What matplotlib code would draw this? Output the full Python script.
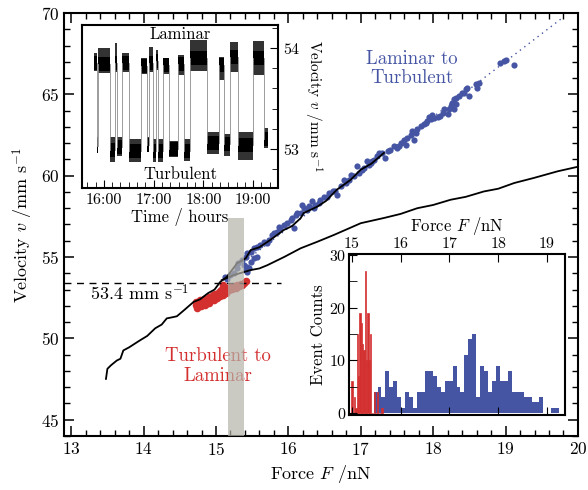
import matplotlib
matplotlib.use("Agg")
import matplotlib.pyplot as plt
from matplotlib.ticker import MultipleLocator, FixedLocator

plt.rcParams['font.family'] = ['cmr10', 'DejaVu Serif']
plt.rcParams['mathtext.fontset'] = 'cm'
plt.rcParams['axes.formatter.use_mathtext'] = True
plt.rcParams['axes.unicode_minus'] = False

BLUE = '#4555a3'
RED = '#d32f2f'

# --- main panel data (force in nN, velocity in mm/s) ---
blue_F = [19.00, 18.98, 18.93, 19.12, 18.59, 18.63, 18.61, 18.47, 18.43, 18.45,
          18.50, 18.40, 18.36, 18.31, 18.29, 18.26, 18.24, 18.32, 18.29, 18.22,
          18.15, 18.13, 18.20, 18.10, 18.06, 18.01, 17.97, 17.94, 17.99, 17.92,
          17.90, 17.87, 17.83, 17.78, 17.76, 17.71, 17.69, 17.73, 17.64, 17.60,
          17.62, 17.55, 17.53, 17.50, 17.46, 17.41, 17.37, 17.34, 17.30, 17.25,
          17.23, 17.18, 17.16, 17.14, 17.11, 17.09, 17.04, 17.02, 16.97, 16.95,
          16.90, 16.86, 16.84, 16.79, 16.77, 16.72, 16.67, 16.65, 16.61, 16.56,
          16.54, 16.49, 16.44, 16.42, 16.37, 16.35, 16.33, 16.28, 16.26, 16.21,
          16.19, 16.17, 16.12, 16.10, 16.05, 16.03, 15.98, 15.94, 15.89, 15.87,
          15.84, 15.80, 15.78, 15.73, 15.71, 15.66, 15.61, 15.57, 15.52, 15.48,
          15.43, 15.41, 16.08, 15.57, 15.52, 15.48, 15.43, 15.41, 15.38, 15.36,
          15.31, 15.29, 15.25, 15.20, 15.15, 15.13, 15.43, 15.45]
blue_v = [67.12, 67.06, 66.91, 66.79, 65.62, 65.68, 65.41, 65.41, 65.10, 65.35,
          64.90, 65.06, 64.90, 64.80, 64.69, 64.49, 64.28, 64.38, 64.07, 64.07,
          64.07, 63.87, 63.77, 63.66, 63.62, 63.56, 63.46, 63.62, 63.70, 63.35,
          63.25, 63.15, 63.04, 62.84, 62.63, 62.74, 62.53, 62.22, 62.32, 62.22,
          61.91, 62.02, 61.81, 61.71, 61.81, 61.60, 61.50, 61.09, 61.40, 61.40,
          61.19, 60.99, 60.88, 60.78, 60.68, 60.88, 60.47, 60.37, 60.16, 60.58,
          59.96, 60.06, 59.75, 59.55, 59.75, 59.34, 58.83, 59.03, 59.03, 58.93,
          58.72, 58.72, 58.52, 58.31, 58.21, 58.00, 58.42, 58.11, 57.90, 58.00,
          58.21, 57.69, 57.69, 57.59, 57.39, 57.28, 57.08, 56.97, 56.77, 56.87,
          56.56, 56.46, 56.36, 56.05, 55.84, 55.95, 55.74, 55.64, 55.53, 55.33,
          55.23, 55.02, 56.77, 55.02, 54.91, 54.71, 54.40, 54.19, 54.50, 54.81,
          54.61, 54.30, 53.99, 53.89, 53.68, 53.78, 54.09, 54.30]

red_F = [14.72, 14.73, 14.74, 14.76, 14.78, 14.79, 14.82, 14.84, 14.85, 14.88,
         14.90, 14.91, 14.93, 14.96, 14.97, 14.99, 15.02, 15.04, 15.05, 15.07,
         15.10, 15.12, 15.14, 15.15, 15.18, 15.20, 15.22, 15.25, 15.27, 15.29,
         15.31, 15.34, 15.36, 15.38, 15.41, 15.10, 14.75, 14.81, 14.87, 14.94,
         15.00, 15.08, 15.16, 15.24, 15.32]
red_v = [52.03, 52.24, 51.87, 52.14, 52.34, 51.99, 52.24, 52.44, 52.07, 52.34,
         52.55, 52.20, 52.49, 52.65, 52.34, 52.75, 52.49, 52.86, 52.61, 52.96,
         52.69, 53.06, 52.82, 53.10, 52.96, 53.16, 53.06, 53.23, 53.10, 53.31,
         53.23, 53.37, 53.31, 53.43, 53.51, 53.31, 52.05, 52.20, 52.30, 52.45,
         52.60, 52.80, 52.95, 53.10, 53.25]

# black curve (rising branch) and the lower branch
lineA_F = [13.48, 13.50, 13.55, 13.63, 13.68, 13.72, 13.80, 13.95, 14.05, 14.16,
           14.25, 14.32, 14.40, 14.46, 14.55, 14.69, 14.78, 14.89, 14.98, 15.06,
           15.15, 15.29, 15.41, 15.48, 15.60, 15.75, 15.94, 16.05, 16.17, 16.21,
           16.40, 16.52, 16.67, 16.86, 17.00, 17.15, 17.32]
lineA_v = [47.51, 48.13, 48.35, 48.64, 48.75, 49.26, 49.45, 49.88, 50.15, 50.62,
           50.85, 51.23, 51.30, 51.36, 51.70, 52.24, 52.40, 52.78, 53.00, 53.48,
           53.78, 54.61, 54.92, 55.43, 55.60, 56.05, 56.67, 56.90, 57.39, 57.70,
           58.10, 58.45, 59.14, 59.75, 60.37, 60.75, 61.40]
lineB_F = [15.08, 15.25, 15.48, 15.60, 15.71, 15.94, 16.17, 16.40, 16.63, 16.81,
           17.00, 17.32, 17.55, 17.78, 18.00, 18.24, 18.45, 18.70, 18.90, 19.12,
           19.39, 19.72, 20.00]
lineB_v = [53.58, 53.90, 54.20, 54.30, 54.50, 55.00, 55.54, 55.94, 56.36, 56.71,
           57.08, 57.40, 57.65, 58.00, 58.20, 58.52, 58.70, 59.03, 59.20, 59.55,
           59.86, 60.27, 60.55]
fit_F = [15.3, 19.8]
fit_v = [54.4, 69.75]

v_threshold = 53.4
band_F = [15.16, 15.39]

# --- inset: velocity vs time (hours) ---
ts_edges = [15.794, 15.854, 15.88, 16.12, 16.213, 16.273, 16.373, 16.5, 16.747,
            16.86, 16.907, 16.98, 17.04, 17.093, 17.193, 17.313, 17.493, 17.62,
            17.74, 18.067, 18.307, 18.42, 18.533, 18.687, 19.0, 19.22, 19.307]
ts_level = [53.85, 53.03, 53.84, 52.99, 53.85, 53.02, 53.85, 52.98, 53.82, 53.04,
            53.85, 52.98, 53.87, 52.98, 53.83, 53.00, 53.84, 52.98, 53.90, 53.06,
            53.83, 53.05, 53.91, 53.04, 53.90, 53.10]
ts_lo = [53.77, 52.97, 53.75, 52.87, 53.76, 52.93, 53.76, 52.87, 53.74, 52.98,
         53.76, 52.87, 53.78, 52.87, 53.74, 52.92, 53.73, 52.88, 53.77, 52.95,
         53.68, 52.93, 53.76, 52.89, 53.73, 53.01]
ts_hi = [53.95, 53.12, 54.00, 53.12, 54.05, 53.12, 53.95, 53.10, 53.90, 53.12,
         54.01, 53.10, 53.98, 53.10, 53.90, 53.08, 53.93, 53.10, 54.08, 53.17,
         53.91, 53.15, 54.06, 53.17, 54.07, 53.21]

# --- inset: histograms of transition forces ---
blue_bin0 = 15.445
blue_binw = 0.081
blue_counts = [4, 5, 3, 8, 5, 6, 3, 1, 4, 3, 1, 4, 4, 8, 8, 7, 5, 4, 6, 6,
               9, 5, 4, 11, 14, 15, 3, 9, 8, 4, 6, 9, 6, 6, 8, 4, 4, 4, 3, 3,
               2, 2, 3, 0, 0, 1, 1]
red_bin0 = 14.99
red_binw = 0.0274
red_counts = [6, 0, 3, 1, 15, 7, 19, 17, 13, 12, 27, 10, 19, 10, 15, 0, 0, 4, 0, 4,
              0, 0, 1, 1]

fig = plt.figure(figsize=(5.88, 4.9), dpi=100)

# Main plot
ax = fig.add_axes([0.1088, 0.1102, 0.8741, 0.8633])
ax.plot(fit_F, fit_v, ls=(0, (1, 3)), color=BLUE, lw=1.0, zorder=1)
ax.scatter(blue_F, blue_v, s=20, color=BLUE, lw=0, zorder=2)
ax.scatter(red_F, red_v, s=30, color=RED, lw=0, zorder=2)
ax.plot(lineA_F, lineA_v, color='k', lw=1.3, zorder=3)
ax.plot(lineB_F, lineB_v, color='k', lw=1.3, zorder=3)
ax.plot([12.9, 15.9], [v_threshold, v_threshold], 'k--', lw=1.0, dashes=(5, 4), zorder=3)
ax.axvspan(band_F[0], band_F[1], ymin=0, ymax=(57.4 - 44) / 26, color='#b4b4aa',
           alpha=0.7, lw=0, zorder=4)

ax.text(13.26, 52.8, r'53.4 mm s$^{-1}$', fontsize=13, va='center', ha='left')
ax.text(17.7, 66.6, 'Laminar to\nTurbulent', color=BLUE, fontsize=13.5,
        ha='center', va='center', linespacing=1.1)
ax.text(15.02, 48.3, 'Turbulent to\nLaminar', color=RED, fontsize=13.5,
        ha='center', va='center', linespacing=1.1)

ax.set_xlim(12.9, 20)
ax.set_ylim(44, 70)
ax.xaxis.set_major_locator(MultipleLocator(1))
ax.xaxis.set_minor_locator(MultipleLocator(0.2))
ax.yaxis.set_major_locator(MultipleLocator(5))
ax.yaxis.set_minor_locator(MultipleLocator(1))
ax.tick_params(which='both', direction='in', top=True, right=True, labelsize=12.5)
ax.tick_params(which='major', length=7, width=1.1)
ax.tick_params(which='minor', length=4, width=1.0)
for s in ax.spines.values():
    s.set_linewidth(1.5)
ax.set_xlabel(r'Force $F$ /nN', fontsize=13)
ax.set_ylabel(r'Velocity $v$ /mm s$^{-1}$', fontsize=13, labelpad=4)

# Inset: time series
ax1 = fig.add_axes([0.1395, 0.6163, 0.3333, 0.3327])
for i in range(len(ts_level)):
    t0, t1 = ts_edges[i], ts_edges[i + 1]
    ax1.fill_between([t0, t1], ts_lo[i], ts_hi[i], color='k', alpha=0.8, lw=0)
    ax1.fill_between([t0, t1], ts_level[i] - 0.07, ts_level[i] + 0.07, color='k', lw=0)
    if i + 1 < len(ts_level):
        ax1.plot([t1, t1], [ts_level[i], ts_level[i + 1]], color='0.55', lw=0.6)
ax1.set_xlim(15.56, 19.5)
ax1.set_ylim(52.61, 54.23)
ax1.set_xticks([16, 17, 18, 19])
ax1.set_xticklabels(['16:00', '17:00', '18:00', '19:00'])
ax1.xaxis.set_minor_locator(MultipleLocator(1 / 6))
ax1.yaxis.set_major_locator(FixedLocator([53, 54]))
ax1.yaxis.set_minor_locator(MultipleLocator(0.2))
ax1.yaxis.tick_right()
ax1.yaxis.set_label_position('right')
ax1.tick_params(which='both', direction='in', labelsize=11.5, left=False, top=False)
ax1.tick_params(which='major', length=6)
ax1.tick_params(which='minor', length=4)
for s in ax1.spines.values():
    s.set_linewidth(1.5)
ax1.set_xlabel('Time / hours', fontsize=12, labelpad=1)
ax1.set_ylabel(r'Velocity $v$ /mm s$^{-1}$', fontsize=11, rotation=270, labelpad=17)
ax1.text(0.5, 0.94, 'Laminar', transform=ax1.transAxes, ha='center', va='center', fontsize=12)
ax1.text(0.5, 0.085, 'Turbulent', transform=ax1.transAxes, ha='center', va='center', fontsize=12)

# Inset: histogram
ax2 = fig.add_axes([0.5935, 0.1531, 0.3673, 0.3286])
blue_edges = [blue_bin0 + i * blue_binw for i in range(len(blue_counts) + 1)]
red_left = [red_bin0 + i * red_binw for i in range(len(red_counts))]
ax2.stairs(blue_counts, blue_edges, fill=True, color=BLUE, lw=0)
ax2.bar(red_left, red_counts, width=red_binw, align='edge', color=RED,
        edgecolor=RED, lw=0.5)
ax2.set_xlim(14.94, 19.37)
ax2.set_ylim(-0.4, 30.2)
ax2.xaxis.tick_top()
ax2.xaxis.set_label_position('top')
ax2.set_xticks([15, 16, 17, 18, 19])
ax2.yaxis.set_major_locator(MultipleLocator(10))
ax2.yaxis.set_minor_locator(MultipleLocator(5))
ax2.tick_params(which='both', direction='in', bottom=True, top=True, right=False,
                labelsize=11.5, length=6, pad=2)
for s in ax2.spines.values():
    s.set_linewidth(1.5)
ax2.set_xlabel(r'Force $F$ /nN', fontsize=12, labelpad=4)
ax2.set_ylabel('Event Counts', fontsize=12, labelpad=2)

fig.savefig('out.png', dpi=100)
